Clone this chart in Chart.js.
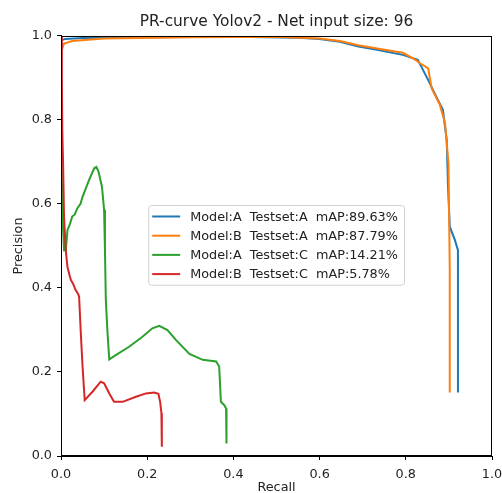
<!DOCTYPE html>
<html>
<head>
<meta charset="utf-8">
<script src="https://cdn.jsdelivr.net/npm/chart.js@4.4.1/dist/chart.umd.min.js"></script>
<style>
  html, body { margin: 0; padding: 0; background: #fff; }
  #wrap { width: 502px; height: 493px; }
</style>
</head>
<body>
<div id="wrap"><canvas id="pr" width="502" height="493"></canvas></div>
<script>
// Model:A on Testset:A
var blueRecall = [0.001, 0.01, 0.05, 0.2, 0.4, 0.55, 0.6, 0.647, 0.69, 0.73, 0.793, 0.828, 0.836, 0.852, 0.871, 0.886, 0.895, 0.898, 0.902, 0.914, 0.921, 0.921];
var bluePrecision = [0.99, 0.993, 0.995, 0.997, 0.998, 0.996, 0.993, 0.986, 0.975, 0.968, 0.955, 0.943, 0.927, 0.895, 0.855, 0.824, 0.752, 0.641, 0.546, 0.514, 0.49, 0.151];

// Model:B on Testset:A
var orangeRecall = [0.001, 0.007, 0.026, 0.1, 0.3, 0.5, 0.6, 0.647, 0.69, 0.73, 0.793, 0.82, 0.833, 0.852, 0.86, 0.879, 0.891, 0.899, 0.902, 0.902];
var orangePrecision = [0.965, 0.982, 0.988, 0.994, 0.997, 0.998, 0.994, 0.988, 0.978, 0.971, 0.96, 0.945, 0.935, 0.923, 0.875, 0.836, 0.793, 0.697, 0.443, 0.151];

// Model:A on Testset:C
var greenRecall = [0.001, 0.003, 0.004, 0.007, 0.009, 0.012, 0.015, 0.02, 0.026, 0.032, 0.038, 0.045, 0.05, 0.065, 0.077, 0.082, 0.087, 0.095, 0.1, 0.102, 0.104, 0.108, 0.112, 0.127, 0.158, 0.189, 0.212, 0.228, 0.247, 0.267, 0.298, 0.329, 0.36, 0.367, 0.371, 0.379, 0.383, 0.384];
var greenPrecision = [0.698, 0.62, 0.56, 0.49, 0.52, 0.5, 0.538, 0.55, 0.57, 0.575, 0.59, 0.6, 0.617, 0.657, 0.685, 0.688, 0.677, 0.641, 0.586, 0.49, 0.371, 0.292, 0.23, 0.24, 0.26, 0.284, 0.304, 0.31, 0.3, 0.276, 0.243, 0.229, 0.225, 0.213, 0.129, 0.121, 0.113, 0.03];

// Model:B on Testset:C
var redRecall = [0.001, 0.002, 0.003, 0.005, 0.007, 0.011, 0.015, 0.02, 0.023, 0.028, 0.034, 0.04, 0.042, 0.046, 0.05, 0.055, 0.073, 0.092, 0.1, 0.112, 0.123, 0.143, 0.174, 0.197, 0.216, 0.226, 0.23, 0.233, 0.234];
var redPrecision = [1.0, 0.9, 0.776, 0.689, 0.57, 0.49, 0.45, 0.43, 0.419, 0.41, 0.395, 0.385, 0.379, 0.292, 0.213, 0.133, 0.153, 0.177, 0.173, 0.149, 0.129, 0.129, 0.141, 0.149, 0.151, 0.148, 0.129, 0.102, 0.022];

var seriesLabels = [
  "Model:A  Testset:A  mAP:89.63%",
  "Model:B  Testset:A  mAP:87.79%",
  "Model:A  Testset:C  mAP:14.21%",
  "Model:B  Testset:C  mAP:5.78%"
];
var seriesColors = ["#1f77b4", "#ff7f0e", "#2ca02c", "#d62728"];
var tickValues = [0, 0.2, 0.4, 0.6, 0.8, 1.0];

var FONT = "'DejaVu Sans', sans-serif";
var TEXT = "#222";

function toPoints(xs, ys) {
  return xs.map(function (x, i) {
    return { x: x, y: ys[i] };
  });
}

function makeSet(i, xs, ys) {
  return {
    label: seriesLabels[i],
    data: toPoints(xs, ys),
    showLine: true,
    borderColor: seriesColors[i],
    backgroundColor: seriesColors[i],
    borderWidth: 2,
    pointRadius: 0,
    tension: 0,
    order: 4 - i,
  };
}

// box round the plot, like matplotlib spines
var framePlugin = {
  id: "frame",
  afterDatasetsDraw: function (chart) {
    var a = chart.chartArea;
    var ctx = chart.ctx;
    ctx.save();
    ctx.strokeStyle = "#000";
    ctx.lineWidth = 1;
    ctx.strokeRect(a.left + 0.5, a.top + 0.5, a.right - a.left - 1, a.bottom - a.top - 1);
    ctx.restore();
  },
};

// legend drawn inside the axes, anchored at data coords
var boxLegend = {
  id: "boxLegend",
  afterDraw: function (chart) {
    var ctx = chart.ctx;
    var xs = chart.scales.x;
    var ys = chart.scales.y;
    var left = xs.getPixelForValue(0.2) + 1;
    var top = ys.getPixelForValue(0.6) + 1;
    var rowH = 19.2;
    var sets = chart.data.datasets;
    ctx.save();
    ctx.font = "12.8px " + FONT;
    var maxW = 0;
    sets.forEach(function (d) {
      maxW = Math.max(maxW, ctx.measureText(d.label).width);
    });
    var w = 42 + maxW + 6;
    var h = sets.length * rowH + 3;
    ctx.beginPath();
    ctx.roundRect(left + 0.5, top + 0.5, w, h, 3);
    ctx.fillStyle = "rgba(255,255,255,0.8)";
    ctx.fill();
    ctx.strokeStyle = "#d0d0d0";
    ctx.lineWidth = 1;
    ctx.stroke();
    ctx.textBaseline = "middle";
    sets.forEach(function (d, i) {
      var cy = top + 11.5 + i * rowH;
      ctx.strokeStyle = d.borderColor;
      ctx.lineWidth = 2;
      ctx.beginPath();
      ctx.moveTo(left + 4, cy);
      ctx.lineTo(left + 32, cy);
      ctx.stroke();
      ctx.fillStyle = TEXT;
      ctx.fillText(d.label, left + 42, cy + 1);
    });
    ctx.restore();
  },
};

function axisOptions(title, tickPad, titleFont, titlePad) {
  return {
    type: "linear",
    min: 0,
    max: 1,
    afterBuildTicks: function (s) {
      s.ticks = tickValues.map(function (v) {
        return { value: v };
      });
    },
    ticks: {
      color: TEXT,
      font: { family: FONT, size: 12.8 },
      padding: tickPad,
      maxRotation: 0,
      callback: function (v) {
        return Number(v).toFixed(1);
      },
    },
    grid: {
      display: true,
      drawOnChartArea: false,
      drawTicks: true,
      tickLength: 4,
      color: "#000",
    },
    border: { display: true, color: "#000", width: 1 },
    title: {
      display: true,
      text: title,
      color: TEXT,
      font: titleFont,
      padding: titlePad,
    },
  };
}

var xAxis = axisOptions("Recall", 7, { family: FONT, size: 12.8, lineHeight: 0.8 }, { top: 0, bottom: 0 });
xAxis.afterFit = function (s) {
  s.height = 37;
  s.paddingRight = 0;
};
var yAxis = axisOptions("Precision", 5, { family: FONT, size: 12.8, lineHeight: 1.2 }, { top: 11, bottom: 0 });
yAxis.afterFit = function (s) {
  s.width = 61;
};

new Chart(document.getElementById("pr"), {
  type: "scatter",
  data: {
    datasets: [
      makeSet(0, blueRecall, bluePrecision),
      makeSet(1, orangeRecall, orangePrecision),
      makeSet(2, greenRecall, greenPrecision),
      makeSet(3, redRecall, redPrecision),
    ],
  },
  options: {
    responsive: false,
    animation: false,
    layout: { padding: { left: 0, right: 10, top: 0, bottom: 0 } },
    scales: { x: xAxis, y: yAxis },
    plugins: {
      legend: { display: false },
      tooltip: { enabled: false },
      title: {
        display: true,
        fullSize: false,
        text: "PR-curve Yolov2 - Net input size: 96",
        color: TEXT,
        font: { family: FONT, size: 15.4, weight: "normal", lineHeight: 1.2 },
        padding: { top: 12.5, bottom: 5 },
      },
    },
  },
  plugins: [framePlugin, boxLegend],
});
</script>
</body>
</html>
